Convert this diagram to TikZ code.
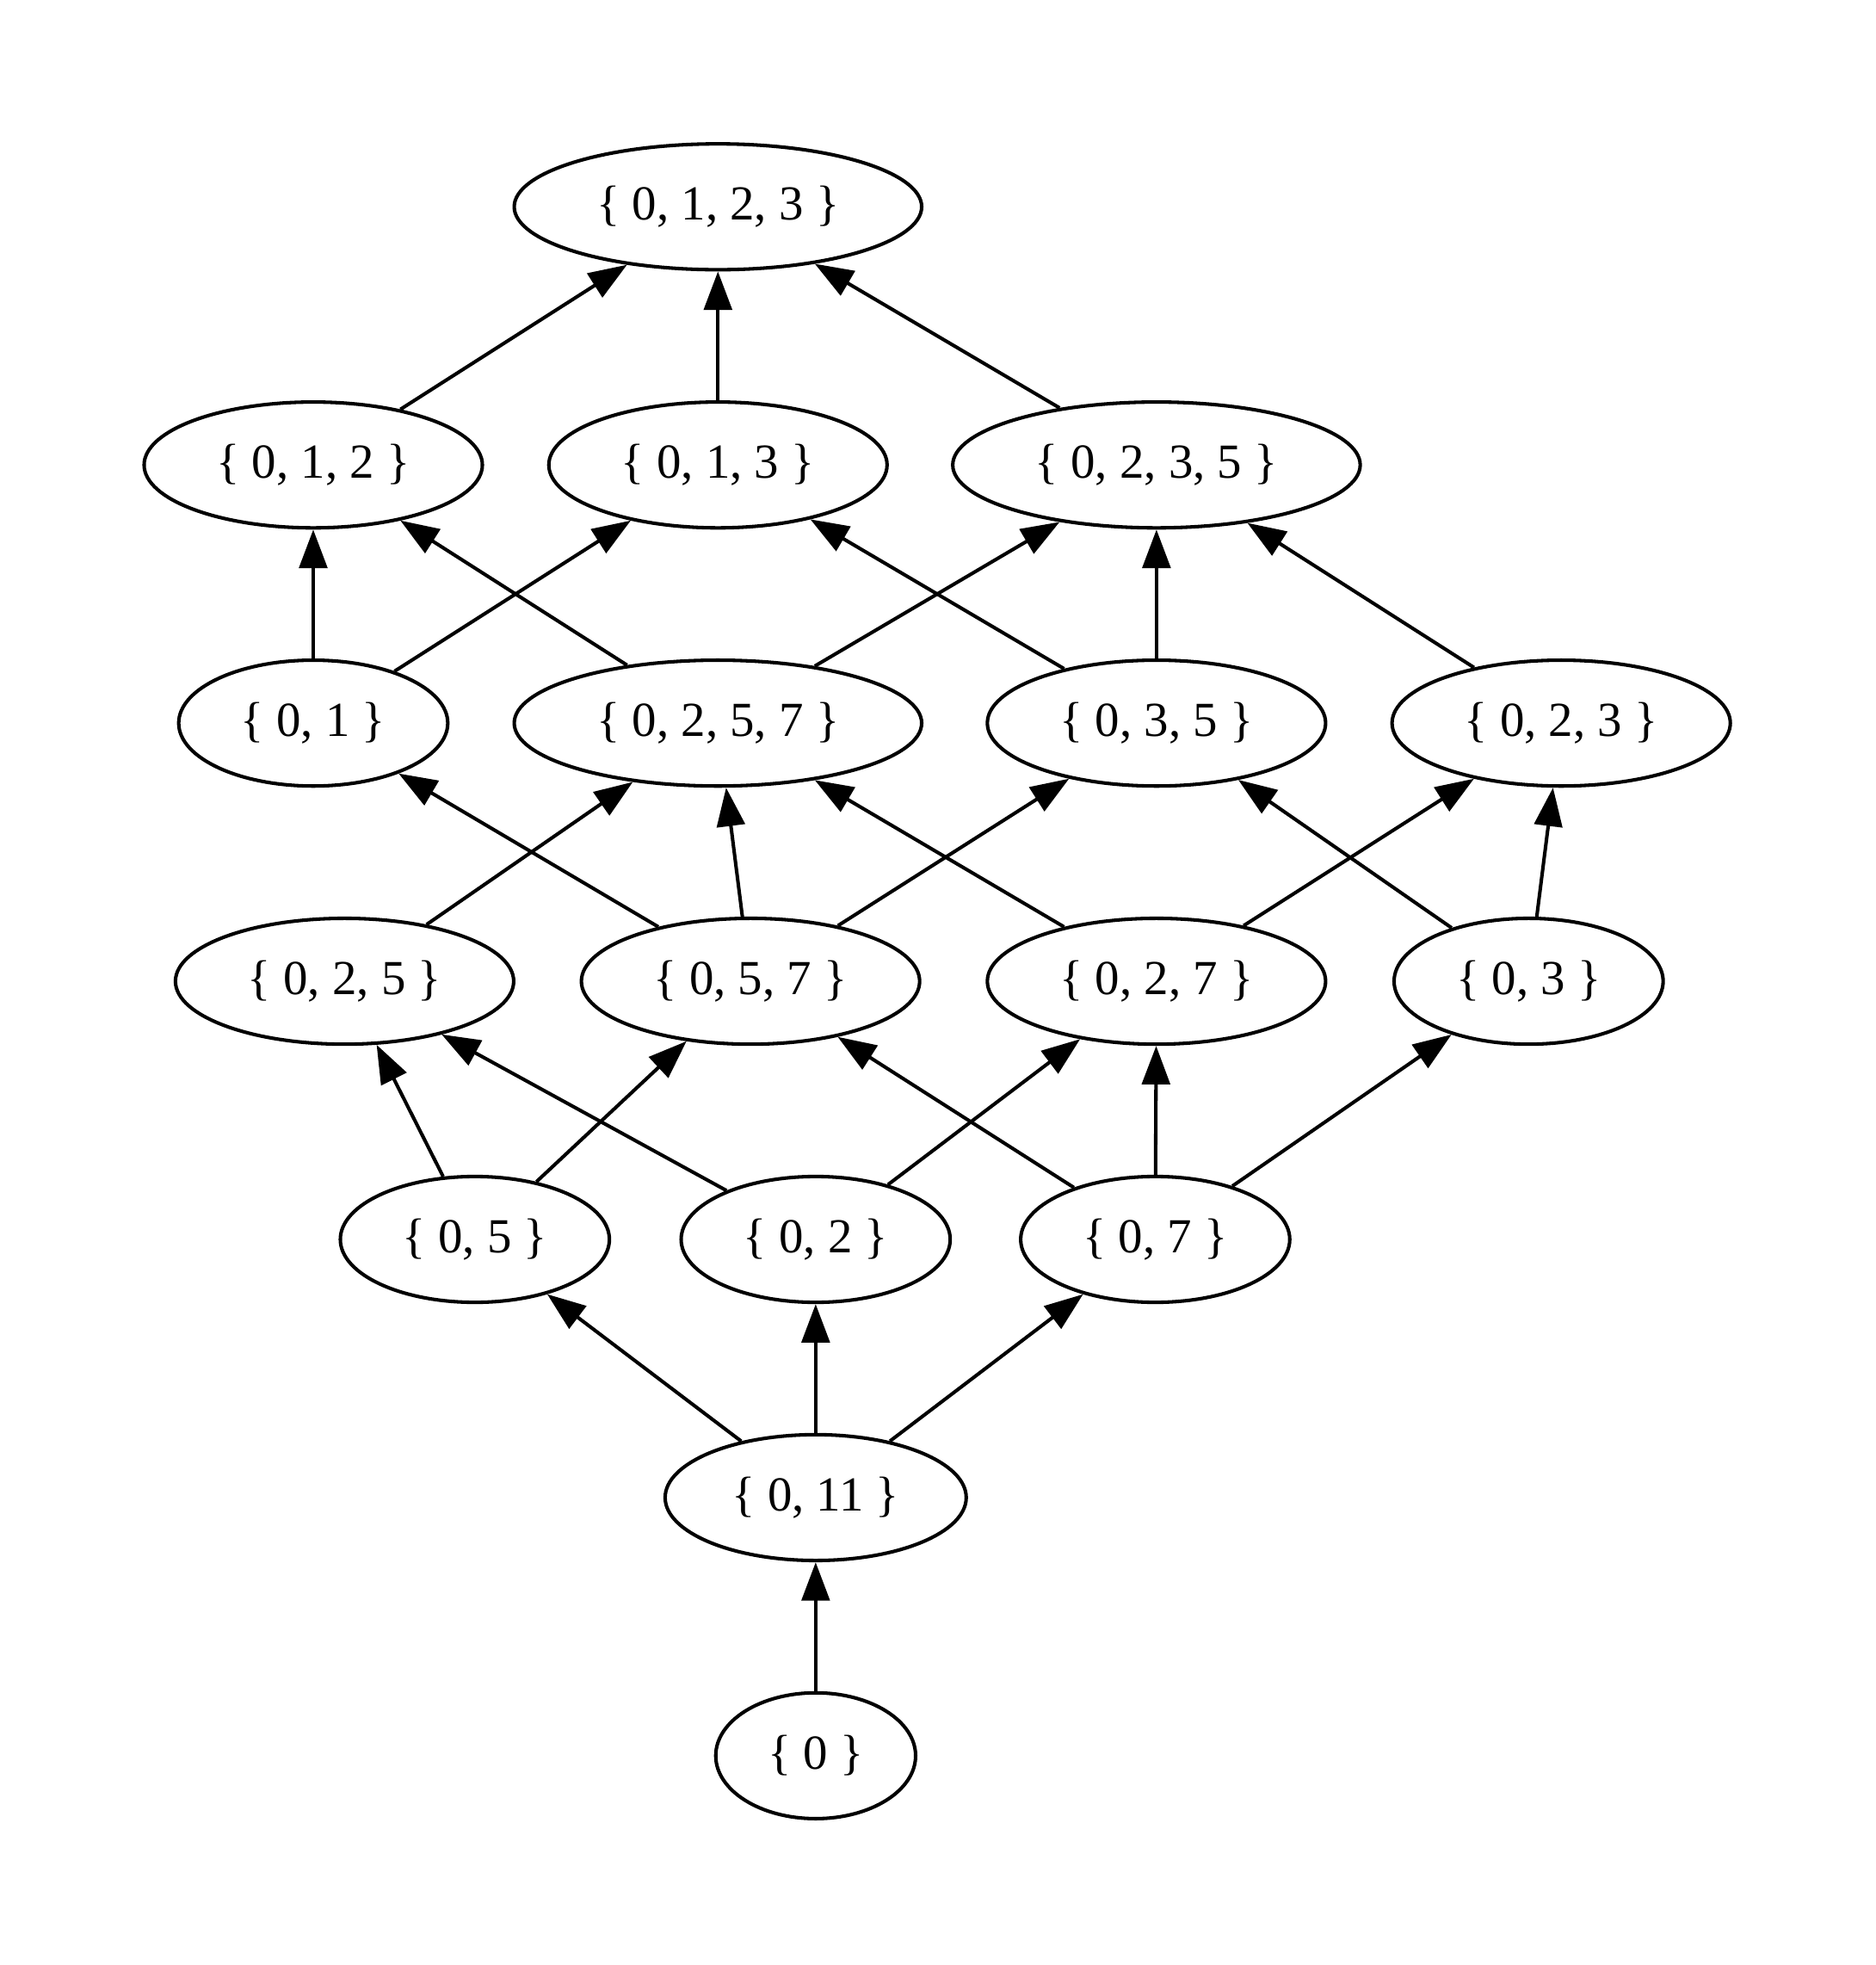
\documentclass[tikz,border=0pt]{standalone}
\usepackage{fontspec}
\setmainfont{Liberation Serif}
\usepackage{tikz}
\usetikzlibrary{shapes.geometric, arrows.meta}
\tikzset{
  setnode/.style={ellipse, draw=black, line width=1pt, fill=white,
    minimum height=36pt, inner xsep=6.5pt, inner ysep=2pt,
    font=\fontsize{14}{17}\selectfont},
  arrow/.style={-{Triangle[length=11pt, width=8pt]}, line width=1pt, color=black}
}

\begin{document}
\begin{tikzpicture}[x=0.3585pt, y=-0.3585pt]
  \useasboundingbox (0,0) rectangle (1497,1568);
  % top element
  \node[setnode] (n0123) at (573,165) {\{ 0, 1, 2, 3 \}};
  % second row
  \node[setnode] (n012) at (250,371) {\{ 0, 1, 2 \}};
  \node[setnode] (n013) at (573,371) {\{ 0, 1, 3 \}};
  \node[setnode] (n0235) at (923,371) {\{ 0, 2, 3, 5 \}};
  % third row
  \node[setnode] (n01) at (250,577) {\{ 0, 1 \}};
  \node[setnode] (n0257) at (573,577) {\{ 0, 2, 5, 7 \}};
  \node[setnode] (n035) at (923,577) {\{ 0, 3, 5 \}};
  \node[setnode] (n023) at (1246,577) {\{ 0, 2, 3 \}};
  % fourth row
  \node[setnode] (n025) at (275,783) {\{ 0, 2, 5 \}};
  \node[setnode] (n057) at (599,783) {\{ 0, 5, 7 \}};
  \node[setnode] (n027) at (923,783) {\{ 0, 2, 7 \}};
  \node[setnode] (n03) at (1220,783) {\{ 0, 3 \}};
  % fifth row
  \node[setnode] (n05) at (379,989) {\{ 0, 5 \}};
  \node[setnode] (n02) at (651,989) {\{ 0, 2 \}};
  \node[setnode] (n07) at (922,989) {\{ 0, 7 \}};
  % bottom
  \node[setnode] (n011) at (651,1195) {\{ 0, 11 \}};
  \node[setnode] (n0) at (651,1401) {\{ 0 \}};

  % covering relations, drawn upwards
  \draw[arrow] (n0) -- (n011);
  \foreach \t in {n05, n02, n07}
    \draw[arrow] (n011) -- (\t);
  \foreach \t in {n025, n057}
    \draw[arrow] (n05) -- (\t);
  \foreach \t in {n025, n027}
    \draw[arrow] (n02) -- (\t);
  \foreach \t in {n057, n027, n03}
    \draw[arrow] (n07) -- (\t);
  \draw[arrow] (n025) -- (n0257);
  \foreach \t in {n01, n0257, n035}
    \draw[arrow] (n057) -- (\t);
  \foreach \t in {n0257, n023}
    \draw[arrow] (n027) -- (\t);
  \foreach \t in {n035, n023}
    \draw[arrow] (n03) -- (\t);
  \foreach \t in {n012, n013}
    \draw[arrow] (n01) -- (\t);
  \foreach \t in {n012, n0235}
    \draw[arrow] (n0257) -- (\t);
  \foreach \t in {n013, n0235}
    \draw[arrow] (n035) -- (\t);
  \draw[arrow] (n023) -- (n0235);
  \foreach \s in {n012, n013, n0235}
    \draw[arrow] (\s) -- (n0123);
\end{tikzpicture}
\end{document}
